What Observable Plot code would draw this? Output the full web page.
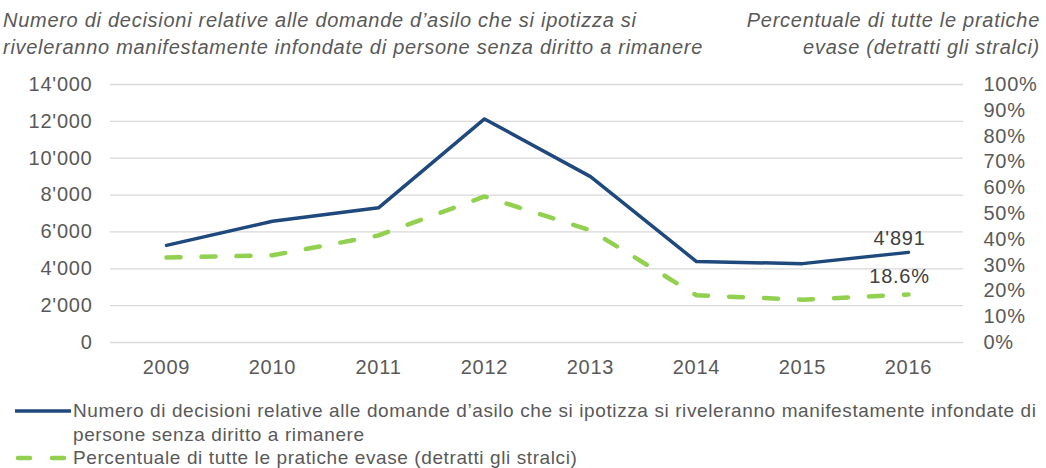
<!DOCTYPE html>
<html><head><meta charset="utf-8">
<script src="https://cdn.jsdelivr.net/npm/d3@7"></script>
<script src="https://cdn.jsdelivr.net/npm/@observablehq/plot@0.6"></script>
<style>
body{margin:0;background:#fff;font-family:"Liberation Sans",Arial,sans-serif;}
#wrap{position:relative;width:1046px;height:468px;overflow:hidden;background:#fff}
.t{position:absolute;font-style:italic;font-size:20px;letter-spacing:0.72px;line-height:27px;color:#595959;top:7px;white-space:nowrap}
#tl{left:3px}
#tr{right:6px;text-align:right}
#chart{position:absolute;left:0;top:60px}
#legend{position:absolute;left:0;top:399px;font-size:19px;letter-spacing:0.6px;color:#595959;line-height:23.5px;white-space:nowrap}
.row{position:relative;padding-left:73px}
.row svg{position:absolute;left:0;top:0}
</style></head>
<body>
<div id="wrap">
  <div class="t" id="tl">Numero di decisioni relative alle domande d’asilo che si ipotizza si<br>riveleranno manifestamente infondate di persone senza diritto a rimanere</div>
  <div class="t" id="tr">Percentuale di tutte le pratiche<br>evase (detratti gli stralci)</div>
  <div id="chart"></div>
  <div id="legend"></div>
</div>
<script>
const years = ["2009","2010","2011","2012","2013","2014","2015","2016"];
const counts = [5270, 6580, 7310, 12130, 9000, 4390, 4280, 4891];
const percents = [32.9, 33.8, 41.5, 56.6, 43.5, 18.3, 16.6, 18.6];
const leftTicks = [0, 2000, 4000, 6000, 8000, 10000, 12000, 14000];
const rightTicks = [0, 10, 20, 30, 40, 50, 60, 70, 80, 90, 100];
const countName = "Numero di decisioni relative alle domande d’asilo che si ipotizza si riveleranno manifestamente infondate di persone senza diritto a rimanere";
const pctName = "Percentuale di tutte le pratiche evase (detratti gli stralci)";
const lastCountLabel = "4'891";
const lastPctLabel = "18.6%";

const pctMax = 100, countMax = 14000;
const k = countMax / pctMax;
const loc = d3.formatLocale({decimal: ".", thousands: "'", grouping: [3], currency: ["", ""]});
const fmt = loc.format(",d");

const countData = years.map((y, i) => ({year: y, v: counts[i]}));
const pctData = years.map((y, i) => ({year: y, v: percents[i] * k}));

const blue = "#1f497d", green = "#92d050";

const chart = Plot.plot({
  width: 1046,
  height: 340,
  marginLeft: 110,
  marginRight: 83,
  marginTop: 24,
  marginBottom: 58,
  style: {fontFamily: "'Liberation Sans', Arial, sans-serif", fontSize: "20px", letterSpacing: "0.75px", color: "#595959", background: "transparent"},
  x: {type: "point", domain: years, padding: 0.5},
  y: {domain: [0, countMax]},
  marks: [
    Plot.gridY({ticks: leftTicks, stroke: "#d9d9d9", strokeOpacity: 1, strokeWidth: 1.3}),
    Plot.axisY({ticks: leftTicks, anchor: "left", tickSize: 0, tickPadding: 18, tickFormat: fmt, label: null, fontSize: 20}),
    Plot.axisY({ticks: rightTicks.map(p => p * k), anchor: "right", tickSize: 0, tickPadding: 20, tickFormat: d => Math.round(d / k) + "%", label: null, fontSize: 20}),
    Plot.axisX({ticks: years, tickSize: 0, tickPadding: 17, label: null, fontSize: 20}),
    Plot.lineY(pctData, {x: "year", y: "v", stroke: green, strokeWidth: 4.5, strokeDasharray: "14,21", strokeLinecap: "round"}),
    Plot.lineY(countData, {x: "year", y: "v", stroke: blue, strokeWidth: 3.5}),
    Plot.text([countData[countData.length - 1]], {x: "year", y: "v", text: () => lastCountLabel, dx: -9, dy: -14, fontSize: 20, fill: "#404040"}),
    Plot.text([pctData[pctData.length - 1]], {x: "year", y: "v", text: () => lastPctLabel, dx: -9, dy: -18, fontSize: 20, fill: "#404040"})
  ]
});
document.getElementById("chart").appendChild(chart);

const legend = document.getElementById("legend");
legend.innerHTML =
  `<div class="row"><svg width="72" height="24"><line x1="15" x2="71" y1="12" y2="12" stroke="${blue}" stroke-width="3.5"/></svg>` +
  `Numero di decisioni relative alle domande d’asilo che si ipotizza si riveleranno manifestamente infondate di<br>persone senza diritto a rimanere</div>` +
  `<div class="row"><svg width="72" height="24"><line x1="18" x2="70" y1="12" y2="12" stroke="${green}" stroke-width="4.5" stroke-linecap="round" stroke-dasharray="12,22"/></svg>` +
  `Percentuale di tutte le pratiche evase (detratti gli stralci)</div>`;
</script>
</body></html>
